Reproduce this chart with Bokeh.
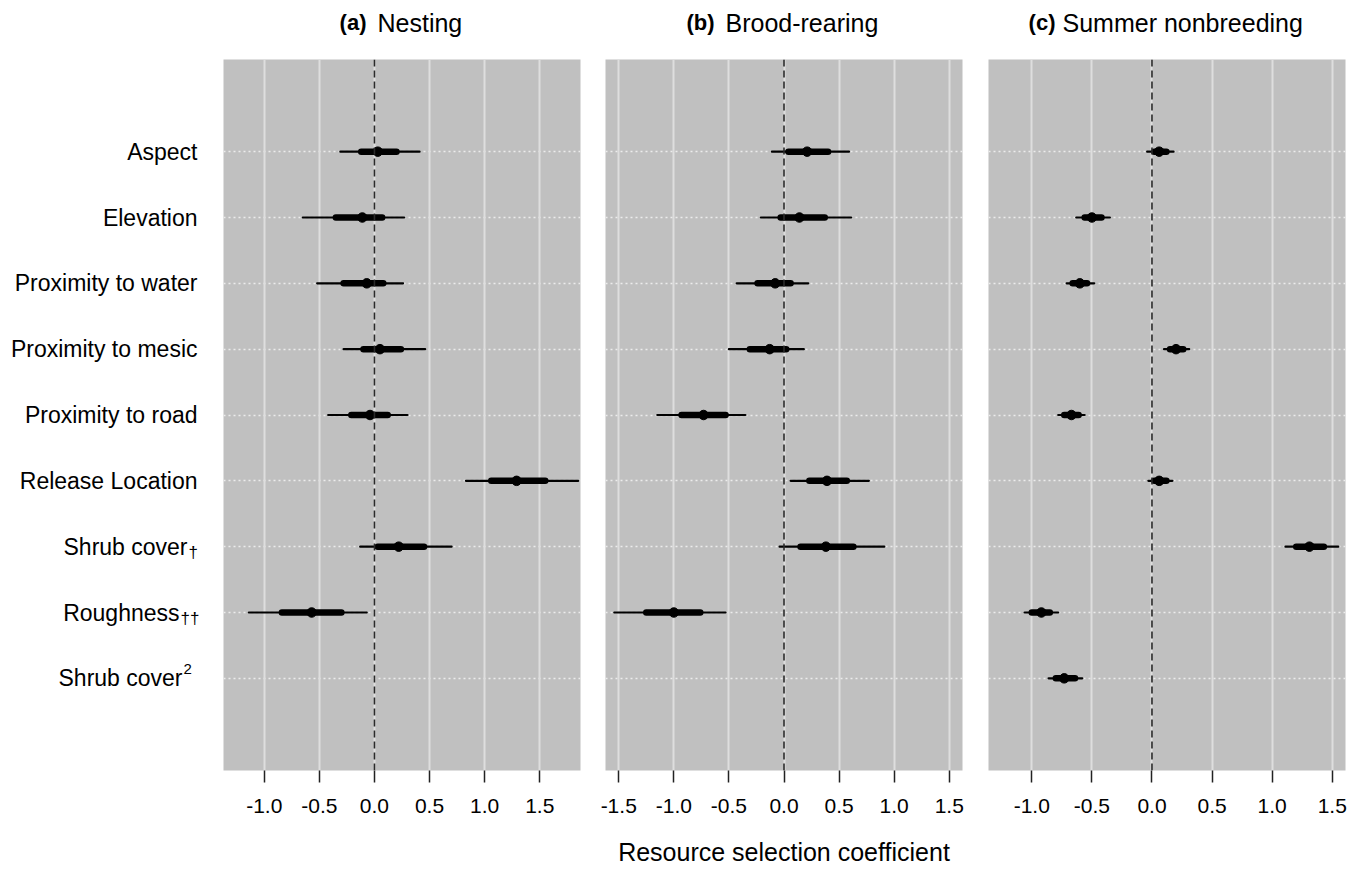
from bokeh.plotting import figure
from bokeh.layouts import row, column
from bokeh.models import (FixedTicker, NumeralTickFormatter, Span, Range1d,
                          Grid, ColumnDataSource)
from bokeh.core.properties import value
from bokeh.embed import file_html
from bokeh.resources import INLINE

# ---------------- data ----------------
variables = ["Aspect", "Elevation", "Proximity to water", "Proximity to mesic",
             "Proximity to road", "Release Location", "Shrub cover", "Roughness",
             "Shrub cover"]
suffixes = ["", "", "", "", "", "", "\u2020", "\u2020\u2020", "2"]
row_pos = [9, 8, 7, 6, 5, 4, 3, 2, 1]

title_tags = ["(a)", "(b)", "(c)"]
title_names = ["Nesting", "Brood-rearing", "Summer nonbreeding"]
x_label = "Resource selection coefficient"

# (a) Nesting (no Shrub cover^2 term)
est_a = [0.03, -0.11, -0.07, 0.05, -0.04, 1.29, 0.22, -0.57]
lo95_a = [-0.31, -0.65, -0.52, -0.28, -0.42, 0.83, -0.13, -1.14]
hi95_a = [0.41, 0.27, 0.26, 0.46, 0.30, 1.85, 0.70, -0.07]
lo50_a = [-0.12, -0.35, -0.28, -0.10, -0.21, 1.06, 0.03, -0.84]
hi50_a = [0.20, 0.07, 0.08, 0.24, 0.12, 1.55, 0.45, -0.30]

# (b) Brood-rearing (no Shrub cover^2 term)
est_b = [0.21, 0.14, -0.08, -0.13, -0.73, 0.39, 0.38, -1.00]
lo95_b = [-0.11, -0.21, -0.43, -0.50, -1.15, 0.06, -0.04, -1.54]
hi95_b = [0.59, 0.61, 0.22, 0.18, -0.35, 0.77, 0.91, -0.53]
lo50_b = [0.04, -0.03, -0.24, -0.31, -0.93, 0.23, 0.15, -1.25]
hi50_b = [0.40, 0.37, 0.06, 0.02, -0.53, 0.57, 0.63, -0.76]

# (c) Summer nonbreeding
est_c = [0.06, -0.50, -0.60, 0.20, -0.67, 0.06, 1.31, -0.92, -0.73]
lo95_c = [-0.04, -0.63, -0.71, 0.10, -0.78, -0.03, 1.11, -1.06, -0.86]
hi95_c = [0.18, -0.35, -0.48, 0.31, -0.56, 0.17, 1.55, -0.78, -0.58]
lo50_c = [0.02, -0.56, -0.66, 0.15, -0.73, 0.02, 1.20, -1.00, -0.80]
hi50_c = [0.12, -0.42, -0.54, 0.26, -0.61, 0.12, 1.43, -0.85, -0.64]

ticks_a = [-1.0, -0.5, 0.0, 0.5, 1.0, 1.5]
ticks_b = [-1.5, -1.0, -0.5, 0.0, 0.5, 1.0, 1.5]
ticks_c = [-1.0, -0.5, 0.0, 0.5, 1.0, 1.5]

xlim_a = (-1.37, 1.87)
xlim_b = (-1.62, 1.62)
xlim_c = (-1.36, 1.61)
ylim = (-0.4, 10.4)

FONT = "Liberation Sans"
BG = "#c0c0c0"
TOP_H = 59
FRAME_H = 711
BOTTOM = 101


def bare(p):
    p.background_fill_color = "white"
    p.border_fill_color = "white"
    p.outline_line_color = None
    p.grid.visible = False
    return p


def make_panel(est, lo95, hi95, lo50, hi50, xlim, ticks, width, bl, br, show_xlabel=False):
    p = figure(width=width, height=FRAME_H + BOTTOM, x_range=Range1d(*xlim),
               y_range=Range1d(*ylim), y_axis_location=None, toolbar_location=None,
               output_backend="svg", min_border_left=bl, min_border_right=br,
               min_border_top=0, min_border_bottom=BOTTOM)
    p.background_fill_color = BG
    p.border_fill_color = "white"
    p.outline_line_color = None
    p.xgrid.visible = False
    p.ygrid.visible = False

    hg = Grid(dimension=1, ticker=FixedTicker(ticks=row_pos),
              grid_line_color="#ececec", grid_line_width=1.5, grid_line_dash="2 3")
    vg = Grid(dimension=0, ticker=FixedTicker(ticks=ticks),
              grid_line_color="#dedede", grid_line_width=2)
    p.add_layout(hg)
    p.add_layout(vg)
    p.add_layout(Span(location=0, dimension="height", line_color="#2a2a2a",
                      line_width=1.6, line_dash="7 4"))

    n = len(est)
    src = ColumnDataSource(dict(y=row_pos[:n], est=est, lo95=lo95, hi95=hi95,
                                lo50=lo50, hi50=hi50))
    p.segment(x0="lo95", y0="y", x1="hi95", y1="y", source=src,
              line_color="black", line_width=2.2, line_cap="round")
    p.segment(x0="lo50", y0="y", x1="hi50", y1="y", source=src,
              line_color="black", line_width=6.5, line_cap="round")
    p.scatter(x="est", y="y", source=src, size=9.5, color="black")

    ax = p.xaxis[0]
    ax.ticker = FixedTicker(ticks=ticks)
    ax.formatter = NumeralTickFormatter(format="0.0")
    ax.axis_line_color = None
    ax.major_tick_in = 0
    ax.major_tick_out = 12
    ax.major_tick_line_color = "#222222"
    ax.major_tick_line_width = 1.5
    ax.minor_tick_line_color = None
    ax.major_label_text_font = FONT
    ax.major_label_text_font_size = "21px"
    ax.major_label_text_color = "black"
    ax.major_label_standoff = 16
    if show_xlabel:
        ax.axis_label = x_label
        ax.axis_label_text_font = FONT
        ax.axis_label_text_font_size = "25px"
        ax.axis_label_text_font_style = "normal"
        ax.axis_label_text_color = "black"
        ax.axis_label_standoff = 22
    return p


pa = make_panel(est_a, lo95_a, hi95_a, lo50_a, hi50_a, xlim_a, ticks_a, 369, 0, 12)
pb = make_panel(est_b, lo95_b, hi95_b, lo50_b, hi50_b, xlim_b, ticks_b, 383, 13, 13,
                show_xlabel=True)
pc = make_panel(est_c, lo95_c, hi95_c, lo50_c, hi50_c, xlim_c, ticks_c, 383, 13, 13)

# ---- left strip with the row labels (shares the panels' y scale) ----
LAB_W = 223
lab = bare(figure(width=LAB_W, height=FRAME_H + BOTTOM, x_range=Range1d(0, LAB_W),
                  y_range=pa.y_range, x_axis_location=None, y_axis_location=None,
                  toolbar_location=None, output_backend="svg", min_border_left=0,
                  min_border_right=0, min_border_top=0, min_border_bottom=BOTTOM))
main_right = [197, 197, 197, 197, 197, 197, 187, 179, 182]
lab.text(x=main_right, y=row_pos, text=variables, text_align="right",
         text_baseline="middle", text_font=value(FONT), text_font_size=value("23px"),
         text_color="black")
sub_idx = [i for i, s in enumerate(suffixes) if s and s != "2"]
sup_idx = [i for i, s in enumerate(suffixes) if s == "2"]
lab.text(x=[main_right[i] + 1 for i in sub_idx], y=[row_pos[i] for i in sub_idx],
         text=[suffixes[i] for i in sub_idx], text_align="left", text_baseline="middle",
         text_font=value(FONT), text_font_size=value("17px"), text_color="black",
         y_offset=6)
lab.text(x=[main_right[i] + 1 for i in sup_idx], y=[row_pos[i] for i in sup_idx],
         text=[suffixes[i] for i in sup_idx], text_align="left", text_baseline="middle",
         text_font=value(FONT), text_font_size=value("15px"), text_color="black",
         y_offset=-9)

# ---- top strip with the panel titles ----
TOTAL_W = LAB_W + 369 + 383 + 383
top = bare(figure(width=TOTAL_W, height=TOP_H, x_range=Range1d(0, TOTAL_W),
                  y_range=Range1d(0, TOP_H), x_axis_location=None, y_axis_location=None,
                  toolbar_location=None, output_backend="svg", min_border=0))
tag_right = [366, 714, 1055]
name_left = [377, 725, 1062]
title_base = 37
top.text(x=tag_right, y=[title_base] * 3, text=title_tags, text_align="right",
         text_baseline="alphabetic", text_font=value(FONT), text_font_size=value("22px"),
         text_font_style="bold", text_color="black")
top.text(x=name_left, y=[title_base] * 3, text=title_names, text_align="left",
         text_baseline="alphabetic", text_font=value(FONT), text_font_size=value("25px"),
         text_color="black")

layout = column(top, row(lab, pa, pb, pc))
open("out.html", "w").write(file_html(layout, INLINE))
